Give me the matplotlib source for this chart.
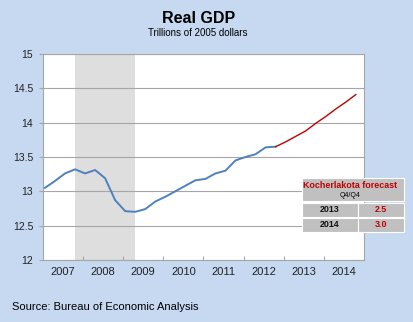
import matplotlib
matplotlib.use('Agg')
import matplotlib.pyplot as plt
from matplotlib.patches import Rectangle
import numpy as np

plt.rcParams['font.family'] = ['Liberation Sans', 'DejaVu Sans']

# quarterly real GDP, 2007Q1 - 2012Q4 (actual), 2013Q1 - 2014Q4 (forecast)
actual = [13.05, 13.15, 13.26, 13.32, 13.26, 13.31, 13.19, 12.87,
          12.71, 12.70, 12.74, 12.85, 12.92, 13.00, 13.08, 13.16,
          13.18, 13.26, 13.30, 13.45, 13.50, 13.54, 13.64, 13.65]
forecast = [13.72, 13.80, 13.88, 13.99, 14.09, 14.20, 14.30, 14.41]
start_year = 2007
years = list(range(2007, 2015))
recession = (3, 9)  # quarter index of peak and trough

table_years = ['2013', '2014']
table_values = ['2.5', '3.0']

bg = '#c6d9f1'
blue = '#4f81bd'
red = '#c00000'
grid_col = '#a6a6a6'

n_act = len(actual)
q_all = np.arange(n_act + len(forecast))
x_all = start_year + 0.05 + 0.25 * q_all
x_act = x_all[:n_act]
# forecast line starts from last actual point
x_fc = x_all[n_act - 1:]
y_fc = [actual[-1]] + forecast

fig = plt.figure(figsize=(4.13, 3.22), dpi=100, facecolor=bg)
ax = fig.add_axes([0.104, 0.193, 0.777, 0.639])
ax.set_facecolor('white')

ax.axvspan(x_all[recession[0]], x_all[recession[1]], color='#dedede', lw=0, zorder=0)
ax.plot(x_act, actual, color=blue, lw=1.4, zorder=3)
ax.plot(x_fc, y_fc, color=red, lw=1.0, zorder=3)

ax.set_xlim(2007, 2015)
ax.set_ylim(12, 15)
ax.set_yticks(np.arange(12, 15.01, 0.5))
ax.set_yticklabels(['12', '12.5', '13', '13.5', '14', '14.5', '15'])
ax.yaxis.grid(True, color=grid_col, lw=0.8)
ax.set_axisbelow(True)

ax.set_xticks(np.arange(2008, 2015), minor=False)
ax.set_xticklabels([])
ax.set_xticks([y + 0.5 for y in years], minor=True)
ax.set_xticklabels([str(y) for y in years], minor=True)
ax.tick_params(axis='x', which='major', direction='in', length=3, color=grid_col)
ax.tick_params(axis='x', which='minor', length=0, pad=5, labelsize=8, colors='#222222')
ax.tick_params(axis='y', direction='out', length=3, color=grid_col, pad=4,
               labelsize=7.5, colors='#222222')
for s in ax.spines.values():
    s.set_color(grid_col)
    s.set_linewidth(0.8)

fig.text(0.48, 0.944, 'Real GDP', ha='center', va='center', fontsize=11.5, fontweight='bold')
fig.text(0.48, 0.898, 'Trillions of 2005 dollars', ha='center', va='center', fontsize=7)
fig.text(0.029, 0.0475, 'Source: Bureau of Economic Analysis', ha='left', va='center', fontsize=8)

# forecast table
cell = '#c0c0c0'
left, mid, right = 0.731, 0.867, 0.978
fig.add_artist(Rectangle((left, 0.376), right - left, 0.447 - 0.376,
                         transform=fig.transFigure, facecolor=cell, edgecolor='white', lw=0.8))
fig.text((left + right) / 2 - 0.008, 0.423, 'Kocherlakota forecast', ha='center', va='center',
         fontsize=6.4, fontweight='bold', color=red)
fig.text((left + right) / 2 - 0.008, 0.392, 'Q4/Q4', ha='center', va='center', fontsize=5)
row_tops = [0.370, 0.324]
row_h = 0.043
for i, (yr, val) in enumerate(zip(table_years, table_values)):
    top = row_tops[i]
    fig.add_artist(Rectangle((left, top - row_h), mid - left, row_h,
                             transform=fig.transFigure, facecolor=cell, edgecolor='white', lw=0.8))
    fig.add_artist(Rectangle((mid, top - row_h), right - mid, row_h,
                             transform=fig.transFigure, facecolor=cell, edgecolor='white', lw=0.8))
    fig.text((left + mid) / 2, top - row_h / 2, yr, ha='center', va='center',
             fontsize=6.4, fontweight='bold', color='#111111')
    fig.text((mid + right) / 2, top - row_h / 2, val, ha='center', va='center',
             fontsize=6.4, fontweight='bold', color=red)

fig.savefig('out.png', dpi=100, facecolor=bg)
